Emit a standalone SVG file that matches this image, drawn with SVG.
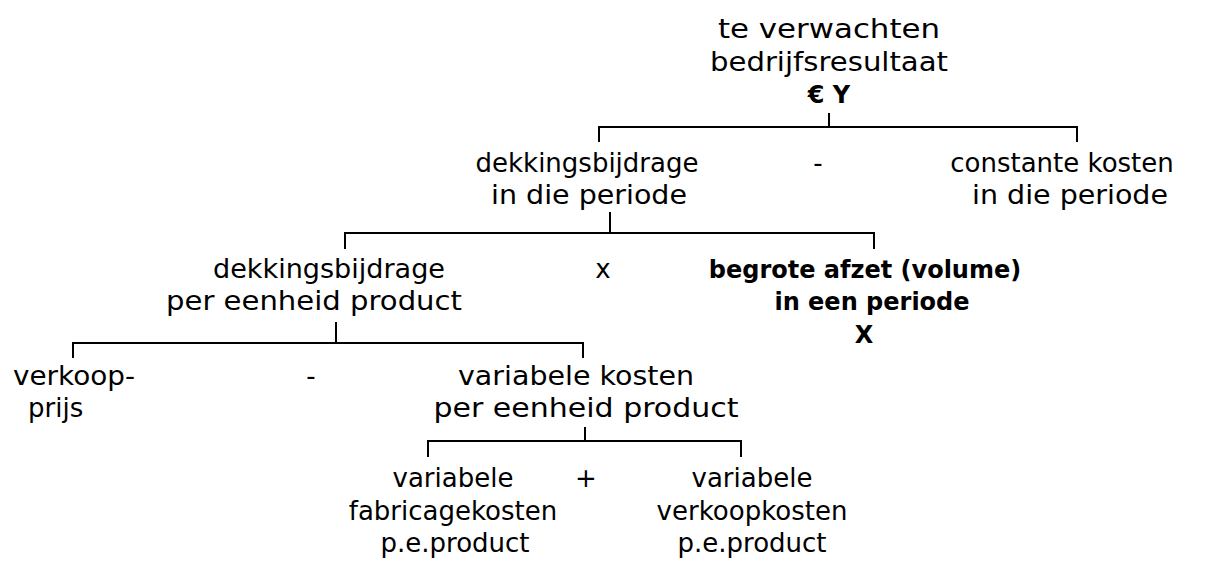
<svg xmlns="http://www.w3.org/2000/svg" width="1206" height="563" viewBox="0 0 1206 563">
<style>
text{font-family:"DejaVu Sans","Liberation Sans",sans-serif;font-size:26px;fill:#000}
.b{font-weight:bold;font-size:24px}
.m{text-anchor:middle}
.c path{fill:none;stroke:#000;stroke-width:2}
</style>
<rect width="1206" height="563" fill="#fff"/>
<g class="c" id="connectors">
<path d="M829 113V127M599 142V127H1077V142"/>
<path d="M610 212V233M345 249V233H874V249"/>
<path d="M336 322V343M73 358V343H583V358"/>
<path d="M585 427V441M428 457V441H741V457"/>
</g>
<g id="n_result">
<text class="m" x="829" y="38" textLength="222" lengthAdjust="spacingAndGlyphs">te verwachten</text>
<text class="m" x="829" y="71" textLength="238" lengthAdjust="spacingAndGlyphs">bedrijfsresultaat</text>
<text class="m b" x="829" y="103">€ Y</text>
</g>
<g id="n_db_periode">
<text class="m" x="587" y="172">dekkingsbijdrage</text>
<text class="m" x="589" y="204" textLength="196" lengthAdjust="spacingAndGlyphs">in die periode</text>
</g>
<g id="op1"><text class="m" x="818" y="172">-</text></g>
<g id="n_constant">
<text class="m" x="1062" y="172">constante kosten</text>
<text class="m" x="1070" y="204" textLength="196" lengthAdjust="spacingAndGlyphs">in die periode</text>
</g>
<g id="n_db_eenheid">
<text class="m" x="329" y="278" textLength="232" lengthAdjust="spacingAndGlyphs">dekkingsbijdrage</text>
<text class="m" x="314" y="310" textLength="296" lengthAdjust="spacingAndGlyphs">per eenheid product</text>
</g>
<g id="op2"><text class="m" x="603" y="278">x</text></g>
<g id="n_afzet">
<text class="m b" x="865" y="278">begrote afzet (volume)</text>
<text class="m b" x="872" y="310">in een periode</text>
<text class="m b" x="864" y="343">X</text>
</g>
<g id="n_prijs">
<text x="13" y="385" textLength="122" lengthAdjust="spacingAndGlyphs">verkoop-</text>
<text x="28" y="417">prijs</text>
</g>
<g id="op3"><text class="m" x="311" y="385">-</text></g>
<g id="n_varkosten">
<text class="m" x="576" y="385" textLength="236" lengthAdjust="spacingAndGlyphs">variabele kosten</text>
<text class="m" x="586" y="417" textLength="305" lengthAdjust="spacingAndGlyphs">per eenheid product</text>
</g>
<g id="n_fabricage">
<text class="m" x="453" y="487">variabele</text>
<text class="m" x="453" y="520">fabricagekosten</text>
<text class="m" x="455" y="552">p.e.product</text>
</g>
<g id="op4"><text class="m" x="586" y="487">+</text></g>
<g id="n_verkoop">
<text class="m" x="752" y="487">variabele</text>
<text class="m" x="752" y="520">verkoopkosten</text>
<text class="m" x="752" y="552">p.e.product</text>
</g>
</svg>
